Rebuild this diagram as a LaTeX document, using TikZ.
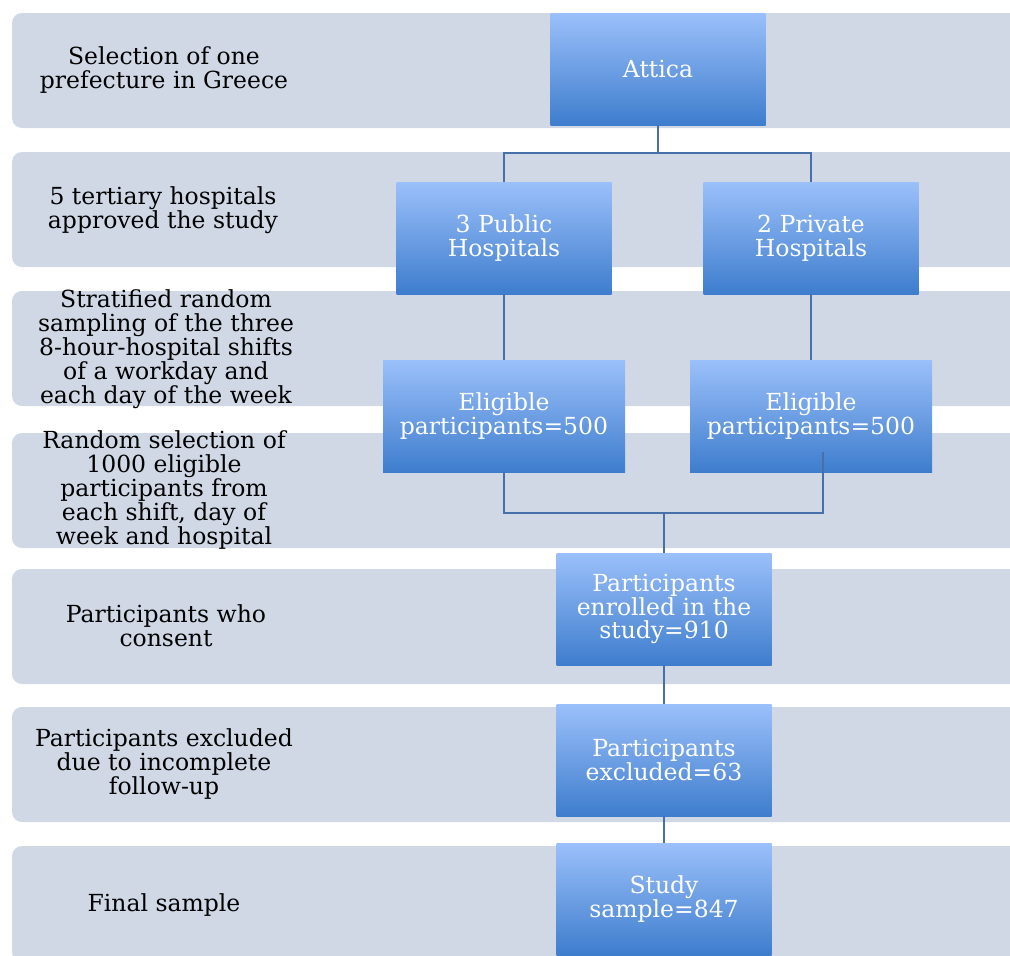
\documentclass[tikz,border=0pt]{standalone}
\usepackage{fontspec}
\setmainfont{DejaVu Serif}
\definecolor{bandgray}{RGB}{208,216,230}
\definecolor{boxtop}{RGB}{155,192,250}
\definecolor{boxbottom}{RGB}{62,125,205}
\definecolor{linkblue}{RGB}{72,112,168}

\begin{document}
\begin{tikzpicture}[x=1pt,y=-1pt]
            \tikzstyle{band} = [fill=bandgray,rounded corners=10pt];
            \tikzstyle{rowtext} = [align=center,text=black,inner sep=0pt,font=\fontsize{23.5}{24}\selectfont];
            \tikzstyle{stage} = [rectangle,inner sep=0pt,minimum width=215pt,minimum height=112pt,top color=boxtop,bottom color=boxbottom,text=white,align=center,font=\fontsize{23.5}{23.5}\selectfont];
            \tikzstyle{link} = [draw=linkblue,line width=1.5pt];
            \useasboundingbox (0,0) rectangle (1010,956);
            \clip (0,0) rectangle (1010,956);
            \foreach \top/\bot in {13/128,152/267,291/406,433/548,569/684,707/822,846/962}
                \fill[band] (12,\top) rectangle (1030,\bot);
            \node[rowtext] (t1) at (164,70) {Selection of one\\prefecture in Greece};
            \node[rowtext] (t2) at (163,210) {5 tertiary hospitals\\approved the study};
            \node[rowtext] (t3) at (166,349) {Stratified random\\sampling of the three\\8-hour-hospital shifts\\of a workday and\\each day of the week};
            \node[rowtext] (t4) at (164,490) {Random selection of\\1000 eligible\\participants from\\each shift, day of\\week and hospital};
            \node[rowtext] (t5) at (166,626) {Participants who\\consent};
            \node[rowtext] (t6) at (164,764) {Participants excluded\\due to incomplete\\follow-up};
            \node[rowtext] (t7) at (164,905) {Final sample};
            \node[stage] (attica) at (658,69) {Attica};
            \node[stage] (public) at (504,238) {3 Public\\Hospitals};
            \node[stage] (private) at (811,238) {2 Private\\Hospitals};
            \node[stage,minimum width=242pt] (eligleft) at (504,416) {Eligible\\participants=500};
            \node[stage,minimum width=242pt] (eligright) at (811,416) {Eligible\\participants=500};
            \node[stage] (enrolled) at (664,609) {Participants\\enrolled in the\\study=910};
            \node[stage] (excluded) at (664,760) {Participants\\excluded=63};
            \node[stage] (study) at (664,899) {Study\\sample=847};
            \coordinate (fork) at (658,153);
            \coordinate (join) at (664,513);
            \coordinate (tail) at (823,452);
            \draw[link] (attica.south) -- (fork);
            \draw[link] (public.north) |- (fork) -| (private.north);
            \draw[link] (public.south) -- (eligleft.north);
            \draw[link] (private.south) -- (eligright.north);
            \draw[link] (eligleft.south) |- (join) -| (tail);
            \draw[link] (join) -- (enrolled.north);
            \draw[link] (enrolled.south) -- (excluded.north);
            \draw[link] (excluded.south) -- (study.north);
        \end{tikzpicture}
\end{document}
